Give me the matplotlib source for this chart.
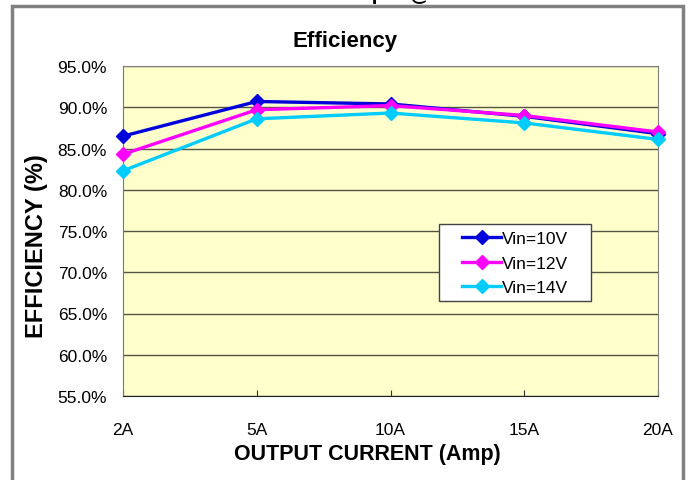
import matplotlib
matplotlib.use("Agg")
import matplotlib.pyplot as plt
from matplotlib.patches import Rectangle
from matplotlib.ticker import FuncFormatter, MultipleLocator

plt.rcParams['font.family'] = ['Liberation Sans', 'DejaVu Sans']

categories = ["2A", "5A", "10A", "15A", "20A"]
vin10 = [0.865, 0.907, 0.904, 0.889, 0.868]
vin12 = [0.843, 0.897, 0.902, 0.890, 0.870]
vin14 = [0.823, 0.886, 0.893, 0.881, 0.861]
series_names = ["Vin=10V", "Vin=12V", "Vin=14V"]
colors = ["#0000DD", "#FF00FF", "#00CCFF"]

W, H = 690, 481
fig = plt.figure(figsize=(W / 100, H / 100), dpi=100)

def px(x0, y0, x1, y1):
    return [x0 / W, 1 - y1 / H, (x1 - x0) / W, (y1 - y0) / H]

# outer frame
fig.patches.append(Rectangle((12 / W, -0.1), (683 - 12) / W, 1.1 - 7 / H,
                             transform=fig.transFigure, fill=False,
                             edgecolor="#808080", linewidth=2.5))
# header text, mostly cut off by the top edge as in the reference
fig.text(317 / W, 1 + 0.5 / H, "Short Circuit Output @", ha="center", va="baseline",
         fontsize=15, fontweight="bold")

ax = fig.add_axes(px(123, 67, 658, 397))
ax.set_facecolor("#FFFFCC")
x = list(range(len(categories)))
for vals, name, c in zip([vin10, vin12, vin14], series_names, colors):
    ax.plot(x, vals, color=c, lw=2.4, marker="D", ms=7, label=name,
            clip_on=False, zorder=3)

ax.set_xlim(0, len(categories) - 1)
ax.set_ylim(0.55, 0.95)
ax.yaxis.set_major_locator(MultipleLocator(0.05))
ax.yaxis.set_major_formatter(FuncFormatter(lambda v, p: f"{v * 100:.1f}%"))
ax.set_xticks(x)
ax.set_xticklabels(categories)
ax.grid(axis="y", color="#555544", lw=1.0)
ax.set_axisbelow(True)
ax.tick_params(axis="y", length=0, pad=11.5, labelsize=12.5)
ax.tick_params(axis="x", direction="in", length=4, pad=19, labelsize=12.5,
               color="#333333")
for s in ["top", "right"]:
    ax.spines[s].set_color("#808080")
ax.spines["left"].set_color("#777777")
ax.spines["bottom"].set_color("#222222")

fig.text(345 / W, 1 - 42 / H, "Efficiency", ha="center", va="center",
         fontsize=16, fontweight="bold")
fig.text(367 / W, 1 - 455 / H, "OUTPUT CURRENT (Amp)", ha="center", va="center",
         fontsize=15.5, fontweight="bold")
fig.text(36.5 / W, 1 - 246 / H, "EFFICIENCY (%)", ha="center", va="center",
         rotation=90, fontsize=17, fontweight="bold")

# legend box
lx0, ly0, lx1, ly1 = 439, 225, 591, 302
box = Rectangle((lx0 / W, 1 - ly1 / H), (lx1 - lx0) / W, (ly1 - ly0) / H,
                transform=fig.transFigure, facecolor="white",
                edgecolor="#444444", linewidth=1.0, zorder=4, clip_on=False)
ax.add_patch(box)
leg = ax.legend(loc="center", bbox_to_anchor=((515 - 123) / 535, (397 - 264) / 330),
                frameon=False, fontsize=12.5, handlelength=2.3,
                handletextpad=0.05, borderpad=0, labelspacing=0.55,
                borderaxespad=0)
leg.set_zorder(5)

fig.savefig("out.png", dpi=100)
